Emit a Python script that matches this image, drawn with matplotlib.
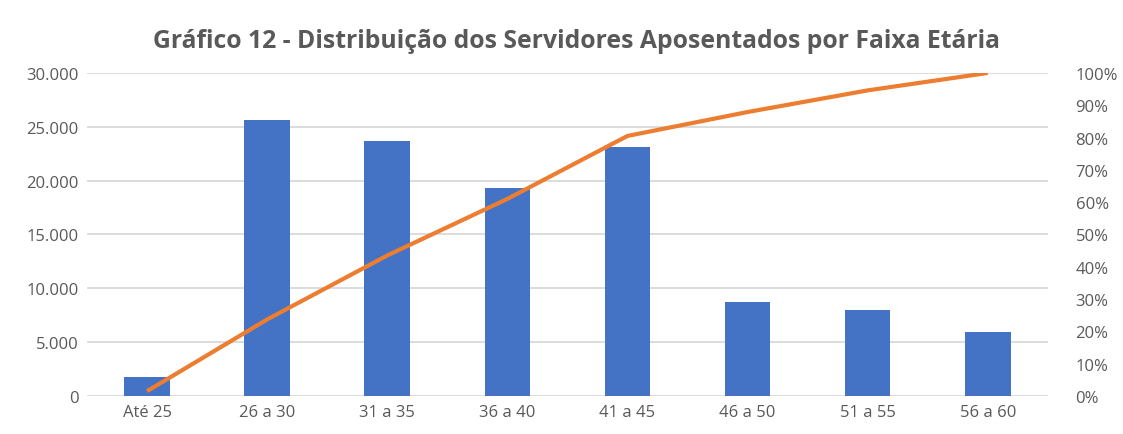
import matplotlib
matplotlib.use("Agg")
import matplotlib.pyplot as plt
from matplotlib.ticker import FuncFormatter, MultipleLocator

categories = ["Até 25", "26 a 30", "31 a 35", "36 a 40", "41 a 45", "46 a 50", "51 a 55", "56 a 60"]
servidores = [1800, 25650, 23700, 19300, 23100, 8700, 7950, 5900]
acumulado_pct = [1.5, 23.7, 43.5, 61.0, 80.5, 87.9, 94.6, 100.0]
title = "Gráfico 12 - Distribuição dos Servidores Aposentados por Faixa Etária"

plt.rcParams['font.family'] = ['Open Sans', 'DejaVu Sans']
gray = "#595959"

fig = plt.figure(figsize=(11.23, 4.35), dpi=100)
ax = fig.add_axes([0.0775, 0.0874, 0.8555, 0.7426])
x = list(range(len(categories)))
ax.bar(x, servidores, width=0.38, color="#4472C4", zorder=2)
ax.set_ylim(0, 30000)
ax.set_xlim(-0.5, len(categories) - 0.5)
ax.yaxis.set_major_locator(MultipleLocator(5000))
ax.yaxis.set_major_formatter(FuncFormatter(lambda v, p: f"{int(v):,}".replace(",", ".")))
ax.grid(axis="y", color="#d9d9d9", linewidth=1.3, zorder=0)
ax.set_xticks(x)
ax.set_xticklabels(categories)
for s in ax.spines.values():
    s.set_visible(False)
ax.tick_params(axis="both", length=0, colors=gray, labelsize=12)
ax.tick_params(axis="y", pad=6)
ax.tick_params(axis="x", pad=6)

ax2 = ax.twinx()
ax2.plot(x, [v / 100 for v in acumulado_pct], color="#ED7D31", linewidth=3.0, zorder=3,
         solid_capstyle="butt")
ax2.set_ylim(0, 1)
ax2.yaxis.set_major_locator(MultipleLocator(0.1))
ax2.yaxis.set_major_formatter(FuncFormatter(lambda v, p: f"{round(v*100)}%"))
for s in ax2.spines.values():
    s.set_visible(False)
ax2.tick_params(axis="y", length=0, colors=gray, labelsize=12, pad=20)

fig.text(0.513, 0.905, title, ha="center", va="center", fontsize=17.8,
         fontweight="bold", color=gray)

fig.savefig("out.png", dpi=100)
